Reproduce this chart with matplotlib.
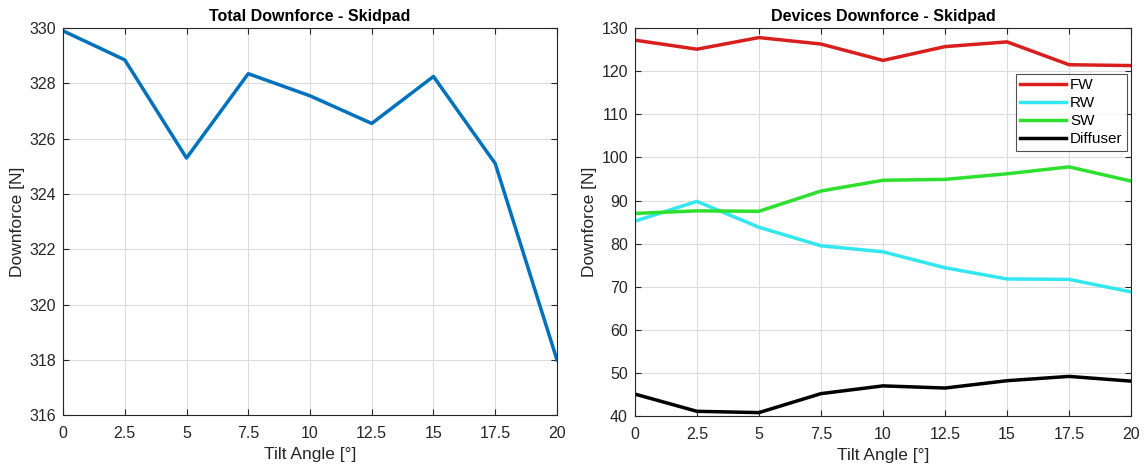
import matplotlib
matplotlib.use("Agg")
import matplotlib.pyplot as plt

plt.rcParams['font.family'] = ['Liberation Sans', 'DejaVu Sans']

tilt = [0, 2.5, 5, 7.5, 10, 12.5, 15, 17.5, 20]
total = [329.9, 328.85, 325.3, 328.35, 327.55, 326.55, 328.25, 325.1, 318.0]
fw = [127.2, 125.1, 127.8, 126.3, 122.5, 125.7, 126.8, 121.5, 121.3]
rw = [85.2, 89.8, 83.8, 79.5, 78.1, 74.4, 71.8, 71.7, 68.8]
sw = [87.0, 87.6, 87.5, 92.2, 94.7, 94.9, 96.2, 97.8, 94.5]
diffuser = [45.1, 41.1, 40.8, 45.2, 47.0, 46.5, 48.2, 49.2, 48.1]
xticks = [0, 2.5, 5, 7.5, 10, 12.5, 15, 17.5, 20]
xticklabels = ['0', '2.5', '5', '7.5', '10', '12.5', '15', '17.5', '20']

fig = plt.figure(figsize=(11.46, 4.68), dpi=100)
ax1 = fig.add_axes([0.055, 0.113, 0.431, 0.827])
ax2 = fig.add_axes([0.554, 0.111, 0.433, 0.829])

def style(ax):
    ax.grid(True, color='#dcdcdc', linewidth=0.8)
    ax.set_axisbelow(True)
    for s in ax.spines.values():
        s.set_color('#262626')
        s.set_linewidth(0.8)
    ax.tick_params(direction='in', length=4, labelsize=11.5, colors='#262626',
                   top=True, right=True, labeltop=False, labelright=False)
    ax.tick_params(axis='x', pad=8)
    ax.tick_params(axis='y', pad=5)
    ax.set_xticks(xticks)
    ax.set_xticklabels(xticklabels)
    ax.set_xlim(0, 20)
    ax.set_xlabel('Tilt Angle [°]', fontsize=12.5, color='#262626', labelpad=4)
    ax.set_ylabel('Downforce [N]', fontsize=12.5, color='#262626', labelpad=3)

ax1.plot(tilt, total, color='#0072BD', linewidth=2.5)
ax1.set_ylim(316, 330)
ax1.set_yticks(range(316, 331, 2))
style(ax1)
ax1.set_title('Total Downforce - Skidpad', fontsize=11.5, fontweight='bold', pad=5)

ax2.plot(tilt, fw, color='#D91E1E', linewidth=2.5, label='FW')
ax2.plot(tilt, rw, color='#33E6F0', linewidth=2.5, label='RW')
ax2.plot(tilt, sw, color='#2EE02E', linewidth=2.5, label='SW')
ax2.plot(tilt, diffuser, color='#000000', linewidth=2.5, label='Diffuser')
ax2.set_ylim(40, 130)
ax2.set_yticks(range(40, 131, 10))
style(ax2)
ax2.set_title('Devices Downforce - Skidpad', fontsize=11.5, fontweight='bold', pad=5)
leg = ax2.legend(loc='upper right', bbox_to_anchor=(0.992, 0.882), fontsize=11,
                 frameon=True, fancybox=False, edgecolor='#262626',
                 handlelength=3.0, handletextpad=0.25, borderpad=0.3,
                 labelspacing=0.26, borderaxespad=0)
leg.get_frame().set_linewidth(0.8)

fig.savefig('out.png', dpi=100)
